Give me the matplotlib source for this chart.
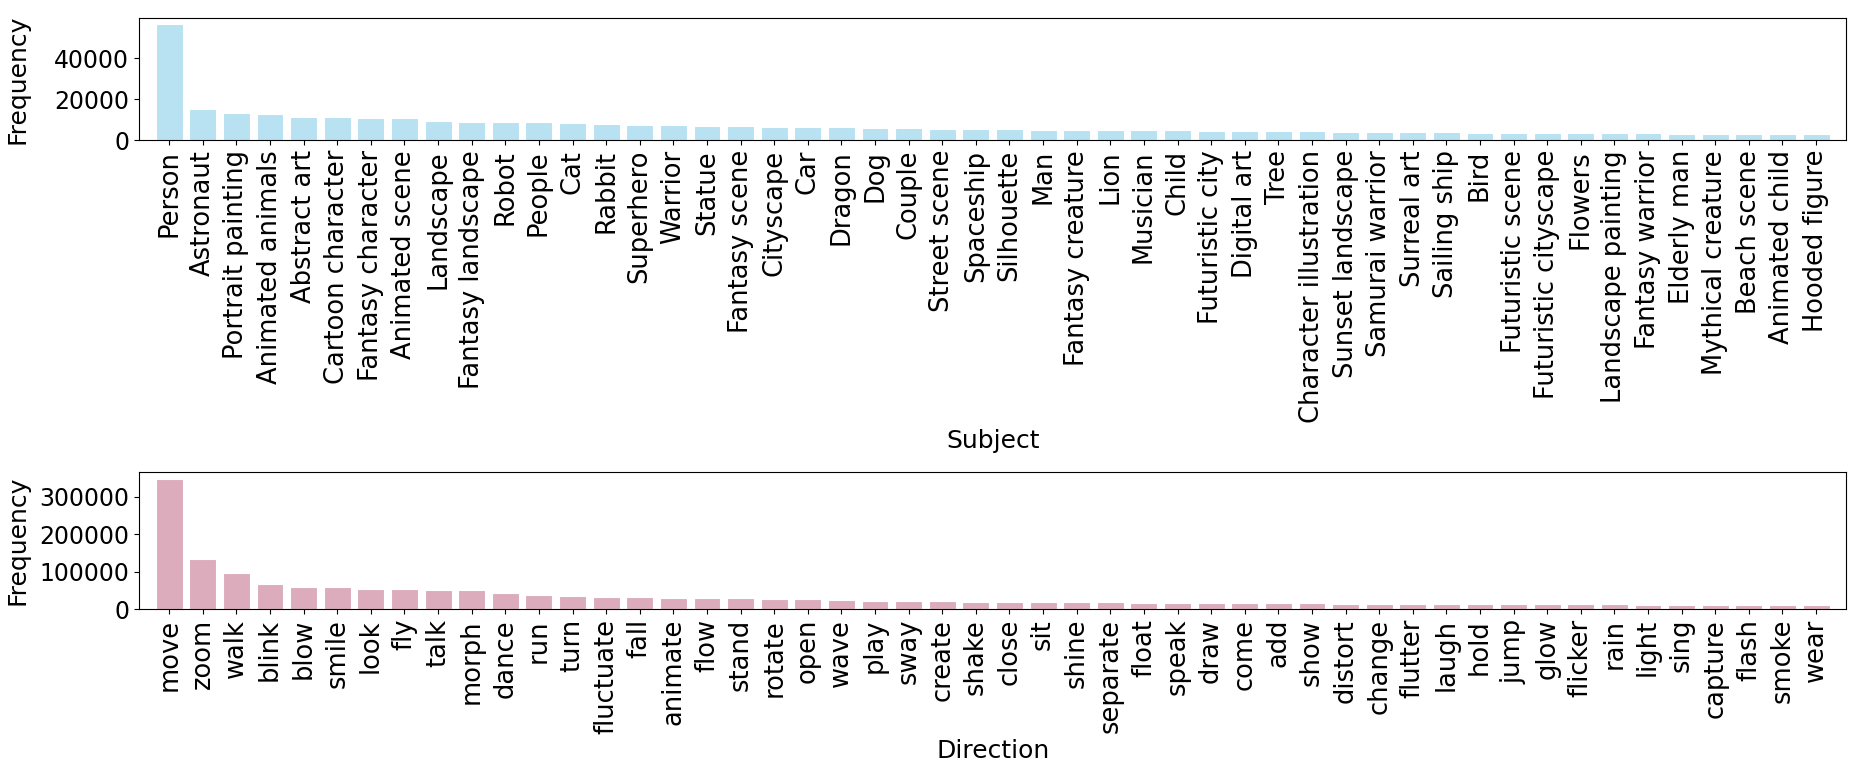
import matplotlib
matplotlib.use('Agg')
import matplotlib.pyplot as plt
import numpy as np

# Subject frequencies
subjects = ['Person', 'Astronaut', 'Portrait painting', 'Animated animals', 'Abstract art',
            'Cartoon character', 'Fantasy character', 'Animated scene', 'Landscape',
            'Fantasy landscape', 'Robot', 'People', 'Cat', 'Rabbit', 'Superhero', 'Warrior',
            'Statue', 'Fantasy scene', 'Cityscape', 'Car', 'Dragon', 'Dog', 'Couple',
            'Street scene', 'Spaceship', 'Silhouette', 'Man', 'Fantasy creature', 'Lion',
            'Musician', 'Child', 'Futuristic city', 'Digital art', 'Tree',
            'Character illustration', 'Sunset landscape', 'Samurai warrior', 'Surreal art',
            'Sailing ship', 'Bird', 'Futuristic scene', 'Futuristic cityscape', 'Flowers',
            'Landscape painting', 'Fantasy warrior', 'Elderly man', 'Mythical creature',
            'Beach scene', 'Animated child', 'Hooded figure']
subject_freq = [56800, 15200, 13100, 12900, 11500, 11200, 11000, 10600, 9600, 9100,
                8800, 8700, 8200, 8000, 7300, 7200, 7000, 6900, 6600, 6500,
                6300, 6200, 6000, 5600, 5500, 5300, 5200, 5100, 5000, 4900,
                4800, 4700, 4500, 4400, 4300, 4200, 4100, 4000, 3800, 3700,
                3600, 3500, 3400, 3350, 3300, 3200, 3100, 3050, 3000, 2900]

# Direction (verb) frequencies
directions = ['move', 'zoom', 'walk', 'blink', 'blow', 'smile', 'look', 'fly', 'talk', 'morph',
              'dance', 'run', 'turn', 'fluctuate', 'fall', 'animate', 'flow', 'stand', 'rotate',
              'open', 'wave', 'play', 'sway', 'create', 'shake', 'close', 'sit', 'shine',
              'separate', 'float', 'speak', 'draw', 'come', 'add', 'show', 'distort', 'change',
              'flutter', 'laugh', 'hold', 'jump', 'glow', 'flicker', 'rain', 'light', 'sing',
              'capture', 'flash', 'smoke', 'wear']
direction_freq = [348000, 134000, 96000, 67000, 60000, 58000, 55000, 53000, 52000, 50000,
                  42000, 37000, 35000, 32000, 32000, 31000, 30000, 29000, 28000, 26000,
                  25000, 23000, 22000, 21000, 20000, 19500, 19000, 18500, 18000, 17500,
                  17000, 16500, 16000, 16000, 15500, 15000, 15000, 14500, 14000, 14000,
                  13500, 13000, 13000, 12500, 12000, 12000, 11500, 11000, 11000, 10500]

fs = 18
fig, (ax1, ax2) = plt.subplots(2, 1, figsize=(18.65, 7.79), dpi=100)

ax1.bar(subjects, subject_freq, color='#b8e1f2', edgecolor='white', linewidth=0.8, width=0.8)
ax1.set_xlabel('Subject', fontsize=fs)
ax1.set_ylabel('Frequency', fontsize=fs)
ax1.tick_params(axis='x', labelrotation=90, labelsize=18.5)
ax1.tick_params(axis='y', labelsize=17)
ax1.set_xlim(-0.9, len(subjects) - 0.1)
ax1.set_yticks([0, 20000, 40000])

ax2.bar(directions, direction_freq, color='#dcacbd', edgecolor='white', linewidth=0.8, width=0.8)
ax2.set_xlabel('Direction', fontsize=fs)
ax2.set_ylabel('Frequency', fontsize=fs)
ax2.tick_params(axis='x', labelrotation=90, labelsize=18.5)
ax2.tick_params(axis='y', labelsize=17)
ax2.set_xlim(-0.9, len(directions) - 0.1)
ax2.set_yticks([0, 100000, 200000, 300000])

ax1.set_position([0.0745, 0.820, 0.9155, 0.157])
ax2.set_position([0.0745, 0.218, 0.9155, 0.176])
ax1.yaxis.set_label_coords(-0.064, 0.5)
ax2.yaxis.set_label_coords(-0.064, 0.5)

plt.savefig('out.png', dpi=100)
